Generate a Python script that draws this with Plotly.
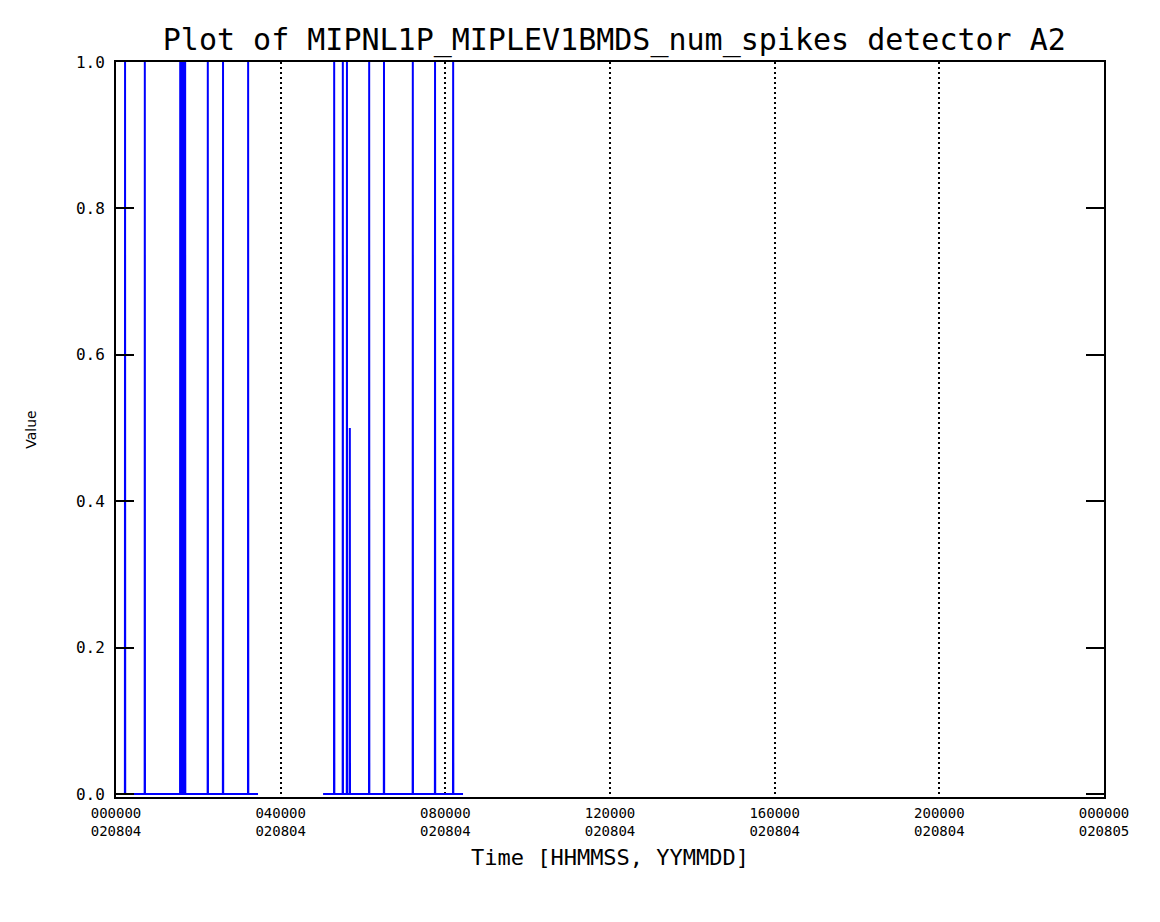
import plotly.graph_objects as go

# Time of each sample in hours since 000000 020804, and its value
spike_hours = [0.22, 0.70, 1.56, 1.59, 1.62, 1.65, 1.68, 2.23, 2.60, 3.21,
               5.30, 5.51, 5.61, 5.68, 6.15, 6.51, 7.21, 7.75, 8.19]
spike_values = [1, 1, 1, 1, 1, 1, 1, 1, 1, 1,
                1, 1, 1, 0.5, 1, 1, 1, 1, 1]
# Stretches where the detector reported data (hours)
segments = [(0.0, 3.45), (5.03, 8.43)]

tick_hours = [0, 4, 8, 12, 16, 20, 24]
tick_text = ["000000<br>020804", "040000<br>020804", "080000<br>020804",
             "120000<br>020804", "160000<br>020804", "200000<br>020804",
             "000000<br>020805"]

# build the step series: baseline at zero with narrow spikes
xs, ys = [], []
eps = 0.004
for start, end in segments:
    xs.append(start)
    ys.append(0)
    for h, v in zip(spike_hours, spike_values):
        if start <= h <= end:
            xs += [h - eps, h, h + eps]
            ys += [0, v, 0]
    xs.append(end)
    ys.append(0)
    xs.append(None)
    ys.append(None)

fig = go.Figure()
fig.add_trace(go.Scatter(x=xs, y=ys, mode="lines",
                         line=dict(color="#0000ff", width=2),
                         hoverinfo="skip", showlegend=False))

mono = "DejaVu Sans Mono, Liberation Mono, monospace"

# the page body adds an 8px margin, so the figure is sized to fit inside it
fig.update_layout(
    width=1144, height=906,
    paper_bgcolor="white", plot_bgcolor="white",
    margin=dict(l=108, r=48, t=54, b=117),
    font=dict(family=mono, size=14, color="black"),
    title=dict(text="Plot of MIPNL1P_MIPLEV1BMDS_num_spikes detector A2",
               x=0.53, xanchor="center", y=0.965, yanchor="middle",
               font=dict(family=mono, size=30, color="black")),
    xaxis=dict(range=[0, 24], tickvals=tick_hours, ticktext=tick_text,
               showgrid=True, gridcolor="black", gridwidth=2, griddash="2px,3px",
               zeroline=False, showline=True, linecolor="black", linewidth=2,
               mirror=True, ticks="", ticklabelstandoff=2,
               tickfont=dict(family=mono, size=14),
               title=dict(text="Time [HHMMSS, YYMMDD]", standoff=12,
                          font=dict(family=mono, size=22))),
    yaxis=dict(range=[-0.004, 1.0], tickvals=[0, 0.2, 0.4, 0.6, 0.8, 1.0],
               tickformat=".1f", showgrid=False, zeroline=False,
               showline=True, linecolor="black", linewidth=2,
               mirror="ticks", ticks="inside", ticklen=18, tickwidth=2,
               tickcolor="black", ticklabelstandoff=6,
               tickfont=dict(family=mono, size=16),
               title=dict(text="Value", standoff=36,
                          font=dict(family="DejaVu Sans, Arial", size=14))),
)

fig.write_html("out.html")
